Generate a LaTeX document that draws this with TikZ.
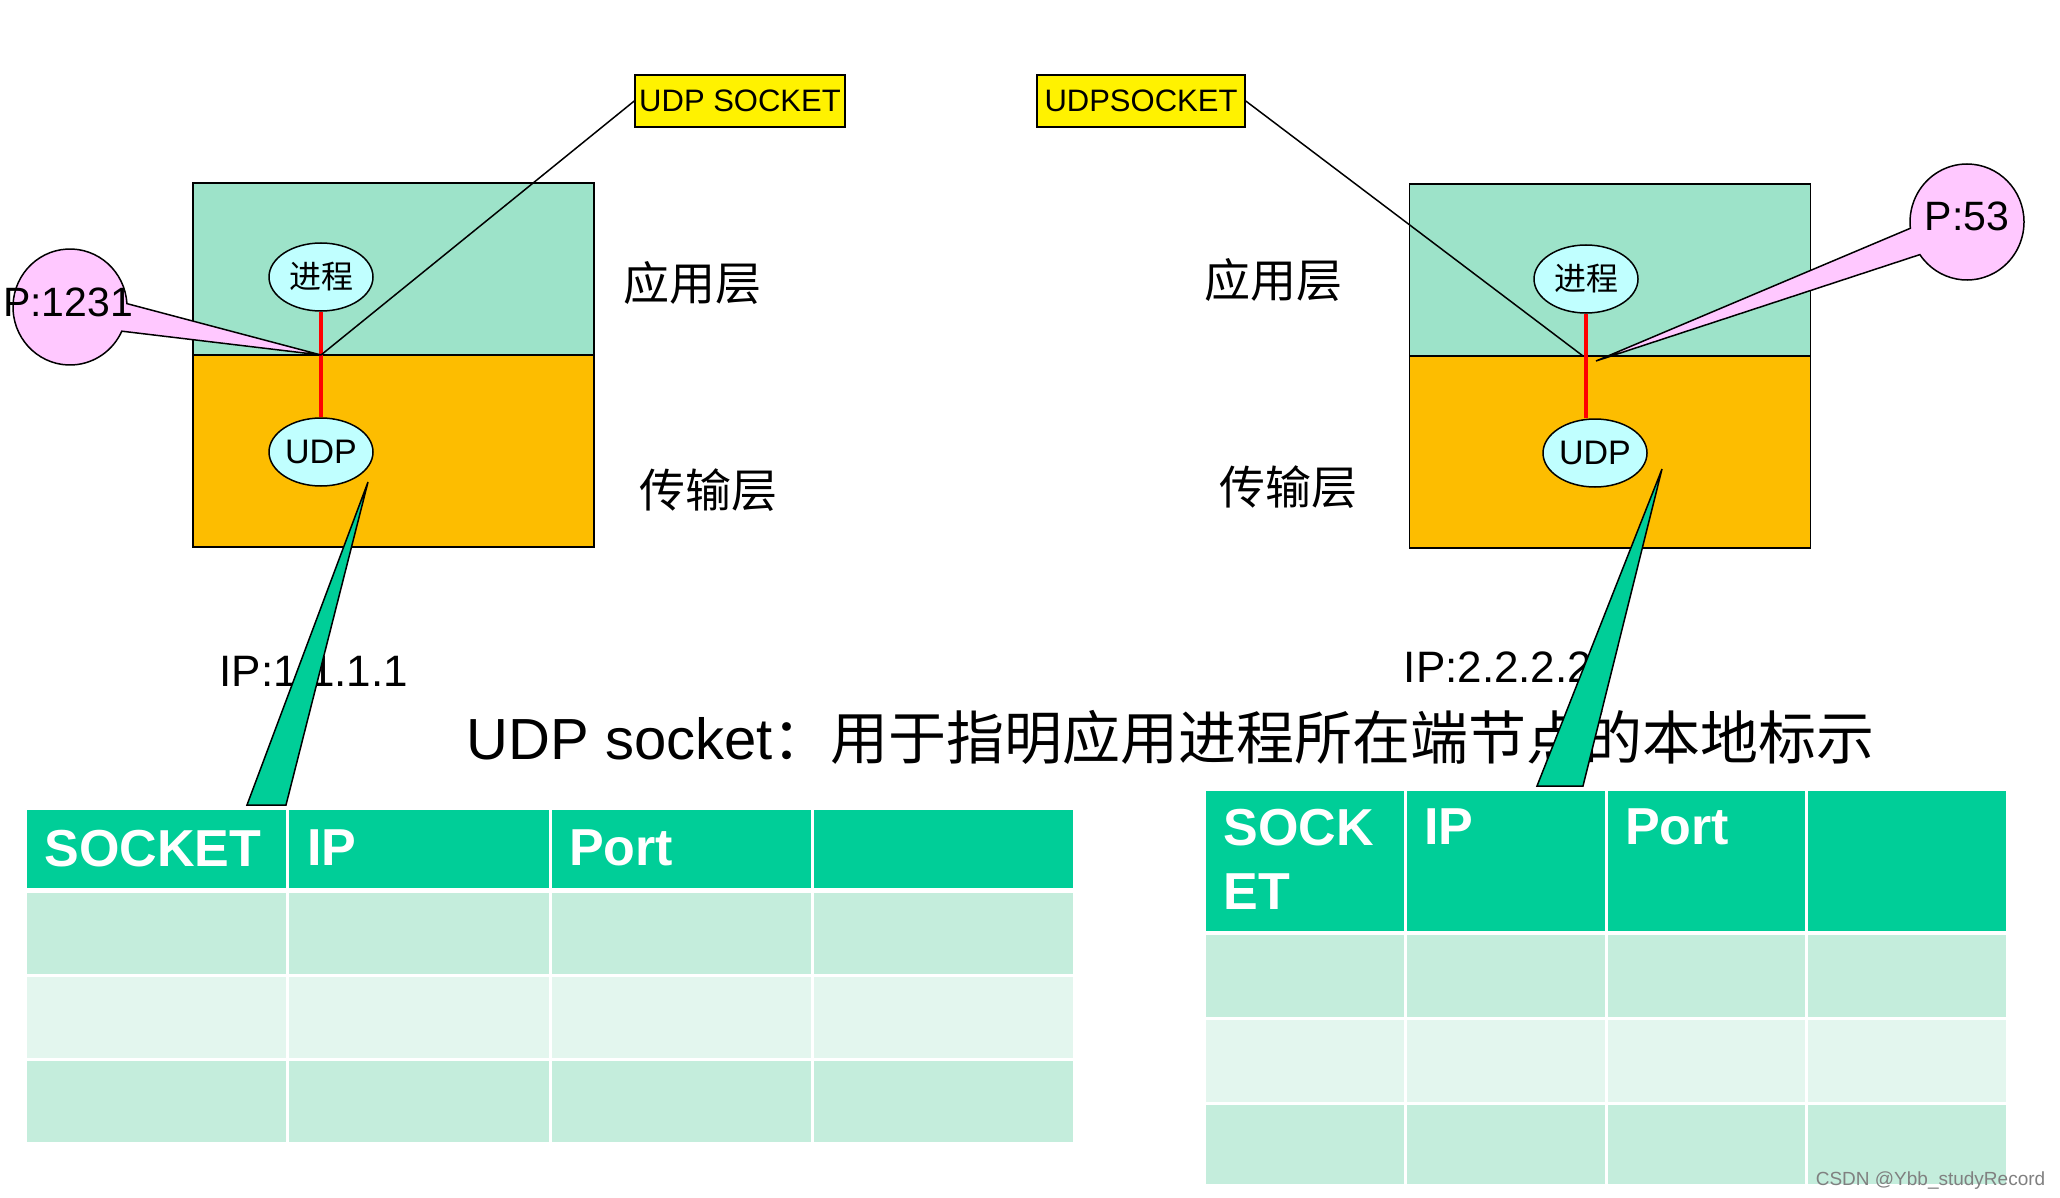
\documentclass[tikz,border=0pt]{standalone}
\usepackage{fontspec}
\setmainfont{Liberation Sans}
\newfontfamily\cjk{Noto Sans CJK SC}
\usepackage{xcolor}
\usetikzlibrary{shapes.geometric,shapes.callouts,calc}

\definecolor{appgreen}{RGB}{157,227,201}
\definecolor{transorange}{RGB}{253,189,0}
\definecolor{procblue}{RGB}{192,255,255}
\definecolor{tippink}{RGB}{255,200,255}
\definecolor{headgreen}{RGB}{0,206,152}
\definecolor{rowdark}{RGB}{196,237,220}
\definecolor{rowlight}{RGB}{227,246,238}

\begin{document}
\begin{tikzpicture}[x=1pt,y=-1pt,line width=1.5pt]
  \tikzstyle{layer}=[draw=black, minimum width=401pt, inner sep=0pt]
  \tikzstyle{proc}=[ellipse, draw=black, fill=procblue, minimum width=104pt, minimum height=68pt, inner sep=0pt]
  \tikzstyle{sockbox}=[draw=black, fill=yellow, minimum height=52pt, inner sep=0pt, font=\fontsize{31}{36}\selectfont]
  \tikzstyle{balloon}=[ellipse callout, draw=black, fill=tippink, minimum width=114pt, minimum height=116pt, inner sep=0pt, callout pointer arc=28]
  \tikzstyle{porttxt}=[font=\fontsize{41}{46}\selectfont, inner sep=0pt]
  \tikzstyle{layertxt}=[font=\cjk\fontsize{46}{52}\selectfont, inner sep=0pt]
  \tikzstyle{iptxt}=[font=\fontsize{44}{50}\selectfont, inner sep=0pt, anchor=base west]
  \tikzstyle{wedge}=[draw=black, fill=headgreen]
  \tikzstyle{cell}=[draw=white, line width=3pt, inner sep=0pt, anchor=north west]
  \tikzstyle{headtxt}=[text=white, font=\bfseries\fontsize{52}{64}\selectfont, inner sep=0pt, anchor=north west, align=left]

  \useasboundingbox (0,0) rectangle (2060,1198);

  % left host
  \node[layer, fill=appgreen, minimum height=172pt] (appL) at (393.5,269) {};
  \node[layer, fill=transorange, minimum height=192pt] (trL) at (393.5,451) {};
  \node[proc, font=\cjk\fontsize{32}{36}\selectfont] (procL) at (321,277) {进程};
  \node[proc, font=\fontsize{34}{38}\selectfont] (udpL) at (321,452) {UDP};
  \draw[red, line width=4pt] (procL.south) -- (udpL.north);
  \coordinate (jL) at (321,355);
  \node[sockbox, minimum width=210pt] (sockL) at (740,101) {UDP SOCKET};
  \draw (sockL.west) -- (jL);
  \node[balloon, callout absolute pointer={(jL)}] (portL) at (70,307) {};
  \node[porttxt] at (68,302) {P:1231};
  \node[layertxt] (appLtxt) at (692,283) {应用层};
  \node[layertxt] (trLtxt) at (708,490) {传输层};

  % right host
  \node[layer, fill=appgreen, minimum height=172pt] (appR) at (1610,270) {};
  \node[layer, fill=transorange, minimum height=192pt] (trR) at (1610,452) {};
  \node[proc, font=\cjk\fontsize{32}{36}\selectfont] (procR) at (1586,279) {进程};
  \node[proc, font=\fontsize{34}{38}\selectfont] (udpR) at (1595,453) {UDP};
  \draw[red, line width=4pt] (procR.south) -- (procR.south |- udpR.north);
  \coordinate (jR) at (1583,356);
  \coordinate (tipR) at (1596,361);
  \node[sockbox, minimum width=208pt] (sockR) at (1141,101) {UDPSOCKET};
  \draw (sockR.east) -- (jR);
  \node[balloon, callout absolute pointer={(tipR)}] (portR) at (1967,222) {};
  \node[porttxt] at (1967,216) {P:53};
  \node[layertxt] (appRtxt) at (1273,280) {应用层};
  \node[layertxt] (trRtxt) at (1288,487) {传输层};

  % addresses and note
  \node[iptxt] (ipL) at (219,686) {IP:1.1.1.1};
  \node[iptxt] (ipR) at (1403,682) {IP:2.2.2.2};
  \node[anchor=base west, inner sep=0pt] (note) at (466,759)
    {\fontsize{58}{64}\selectfont UDP socket{\cjk\fontsize{58}{64}\selectfont ：用于指明应用进程所在端节点的本地标示}};

  % socket tables
  \foreach \cx [count=\i] in {24,286.25,548.5,810.75} {
    \node[cell, fill=headgreen, minimum width=262.25pt, minimum height=81pt] (LH\i) at (\cx,807) {};
    \node[cell, fill=rowdark, minimum width=262.25pt, minimum height=84pt] (LA\i) at (\cx,890) {};
    \node[cell, fill=rowlight, minimum width=262.25pt, minimum height=84pt] (LB\i) at (\cx,974) {};
    \node[cell, fill=rowdark, minimum width=262.25pt, minimum height=84pt] (LC\i) at (\cx,1058) {};
  }
  \foreach \cx [count=\i] in {1203,1403.75,1604.5,1805.25} {
    \node[cell, fill=headgreen, minimum width=200.75pt, minimum height=143pt] (RH\i) at (\cx,788) {};
    \node[cell, fill=rowdark, minimum width=200.75pt, minimum height=85pt] (RA\i) at (\cx,932) {};
    \node[cell, fill=rowlight, minimum width=200.75pt, minimum height=85pt] (RB\i) at (\cx,1017) {};
    \node[cell, fill=rowdark, minimum width=200.75pt, minimum height=82pt] (RC\i) at (\cx,1102) {};
  }
  \node[headtxt] at ([shift={(20pt,-22pt)}]LH1.north west) {SOCKET};
  \node[headtxt] at ([shift={(20pt,-22pt)}]LH2.north west) {IP};
  \node[headtxt] at ([shift={(20pt,-22pt)}]LH3.north west) {Port};
  \node[headtxt] at ([shift={(20pt,-20pt)}]RH1.north west) {SOCK\\ET};
  \node[headtxt] at ([shift={(20pt,-20pt)}]RH2.north west) {IP};
  \node[headtxt] at ([shift={(20pt,-20pt)}]RH3.north west) {Port};

  % pointers from UDP to the tables
  \coordinate (wtipL) at (368,482);
  \coordinate (wbaseL) at (247,805);
  \coordinate (wbaseL') at (286,805);
  \filldraw[wedge] (wtipL) -- (wbaseL) -- (wbaseL') -- cycle;
  \coordinate (wtipR) at (1662,469);
  \coordinate (wbaseR) at (1537,786);
  \coordinate (wbaseR') at (1583,786);
  \filldraw[wedge] (wtipR) -- (wbaseR) -- (wbaseR') -- cycle;

  \node[anchor=south east, inner sep=0pt, text=gray, font=\fontsize{19}{22}\selectfont] (mark) at (2046,1190) {CSDN @Ybb\_studyRecord};
\end{tikzpicture}
\end{document}
